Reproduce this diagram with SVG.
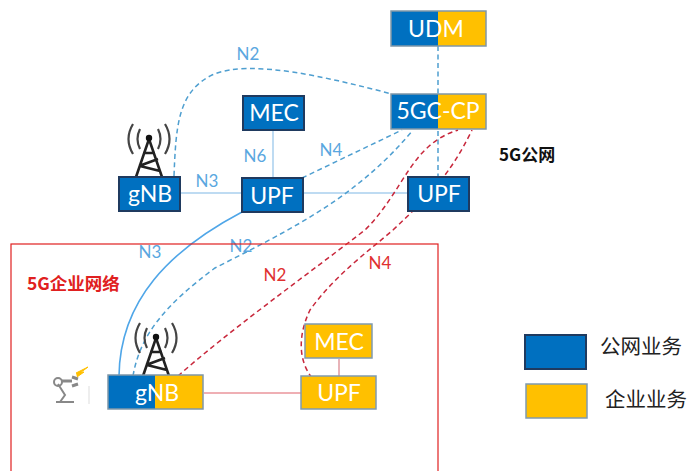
<svg xmlns="http://www.w3.org/2000/svg" width="688" height="471" viewBox="0 0 688 471">
<style>
text{font-family:Lato,"Liberation Sans",sans-serif}
.n{font-size:23px;fill:#fff;text-anchor:middle}
.bl{fill:#0070c0}
.ye{fill:#ffc000}
.bd{fill:#0070c0;stroke:#1f3a5f;stroke-width:2}
.ol{fill:none;stroke:#7f97a8;stroke-width:1.5}
.oy{fill:#ffc000;stroke:#7f9ab0;stroke-width:1.5}
.lb{font-size:17px;fill:#5aa7e0;text-anchor:middle}
.lr{font-size:17px;fill:#e03030;text-anchor:middle}
.d{fill:none;stroke:#4f9fd0;stroke-width:1.5;stroke-dasharray:5 3.5}
.r{fill:none;stroke:#c8283c;stroke-width:1.5;stroke-dasharray:5 3.5}
.s{fill:none;stroke:#a9cfee;stroke-width:1.5}
.t{fill:none;stroke:#222;stroke-width:2.6}
.ta{fill:none;stroke:#444;stroke-width:2.2}
.c{font-family:"Noto Sans CJK SC",sans-serif}
</style>
<defs>
<g id="tower">
<path class="t" d="M-13 38L0 0L13 38M-10 27L9 20M-6 14L6 14M-9 27L11 32"/>
<circle cx="0" cy="-1" r="3.2" fill="#111"/>
<path class="ta" d="M-9 -10Q-14 0-9 10M9 -10Q14 0 9 10M-16 -15Q-25 0-16 15M16 -15Q25 0 16 15"/>
</g>
</defs>
<g id="connectors">
<path class="s" d="M180 193H242M303 193H408M273 130V177"/>
<path class="d" d="M438 46V177"/>
<path class="d" d="M174 176C176 125 178 92 212 75C250 58 330 78 392 94"/>
<path class="d" d="M302 178L402 130"/>
<path class="d" d="M133 376C140 335 165 305 215 268C285 232 355 200 413 130"/>
<path d="M119 376C120 300 170 250 242 212" fill="none" stroke="#4fa6e8" stroke-width="1.6"/>
<path class="r" d="M178 376C230 330 300 280 365 230C405 190 410 145 458 130"/>
<path class="r" d="M312 378C298 360 298 335 310 310C335 275 370 250 393 230C430 195 450 175 472 130"/>
<path d="M204 393H302" fill="none" stroke="#e0606a" stroke-width="1.2"/>
<path d="M339 359V376" fill="none" stroke="#e09aa0" stroke-width="1.5"/>
</g>
<g id="labels">
<text class="lb" x="248" y="60">N2</text>
<text class="lb" x="255" y="162">N6</text>
<text class="lb" x="331" y="156">N4</text>
<text class="lb" x="207" y="187">N3</text>
<text class="lb" x="150" y="258">N3</text>
<text class="lb" x="241" y="252">N2</text>
<text class="lr" x="275" y="281">N2</text>
<text class="lr" x="380" y="269">N4</text>
<text class="c" x="499" y="161" font-size="17" font-weight="700" fill="#111">5G公网</text>
</g>
<rect id="enterprise" x="11" y="244" width="427" height="240" fill="none" stroke="#e02020" stroke-width="1.2"/>
<text class="c" x="27" y="290" font-size="17.5" font-weight="700" fill="#e02020">5G企业网络</text>
<g id="udm">
<rect class="bl" x="391" y="11" width="47" height="35"/><rect class="ye" x="438" y="11" width="48" height="35"/>
<rect class="ol" x="391" y="11" width="95" height="35"/>
<text class="n" x="436" y="37">UDM</text>
</g>
<g id="cp">
<rect class="bl" x="391" y="94" width="47" height="35"/><rect class="ye" x="438" y="94" width="48" height="35"/>
<rect class="ol" x="391" y="94" width="95" height="35"/>
<text class="n" x="438" y="119">5GC-CP</text>
</g>
<g id="mec1"><rect class="bd" x="243" y="96" width="61" height="34"/><text class="n" x="274" y="121">MEC</text></g>
<g id="upf1"><rect class="bd" x="242" y="178" width="61" height="34"/><text class="n" x="272" y="204">UPF</text></g>
<g id="upf2"><rect class="bd" x="408" y="177" width="61" height="34"/><text class="n" x="439" y="202">UPF</text></g>
<g id="gnb1">
<use href="#tower" x="149" y="139"/>
<rect class="bd" x="119" y="177" width="61" height="34"/><text class="n" x="150" y="202">gNB</text>
</g>
<g id="gnb2">
<use href="#tower" x="156" y="338"/>
<rect class="bl" x="108" y="375" width="47" height="34"/><rect class="ye" x="155" y="375" width="48" height="34"/>
<rect class="ol" x="108" y="375" width="95" height="34"/>
<text class="n" x="157" y="401">gNB</text>
</g>
<g id="robot" fill="none" stroke="#888" stroke-width="2">
<path d="M56 402H74M60 402L65 395L58 384"/>
<circle cx="58" cy="382" r="4"/>
<path d="M62 381H72M72 377L78 379M72 386L78 384" stroke-width="3"/>
<path d="M76 373L88 367L80 373L84 372L77 377" fill="#ffc000" stroke="#ffc000" stroke-width="1"/>
<path d="M89 386V404" stroke="#ddd" stroke-width="1"/>
</g>
<g id="mec2"><rect class="oy" x="305" y="324" width="67" height="34"/><text class="n" x="339" y="350">MEC</text></g>
<g id="upf3"><rect class="oy" x="301" y="376" width="75" height="33"/><text class="n" x="339" y="401">UPF</text></g>
<g id="legend-public">
<rect class="bd" x="525" y="335" width="61" height="34"/>
<text class="c" x="600" y="354" font-size="20.5" fill="#222">公网业务</text>
</g>
<g id="legend-enterprise">
<rect class="oy" x="526" y="384" width="61" height="34"/>
<text class="c" x="605" y="407" font-size="20.5" fill="#222">企业业务</text>
</g>
</svg>
